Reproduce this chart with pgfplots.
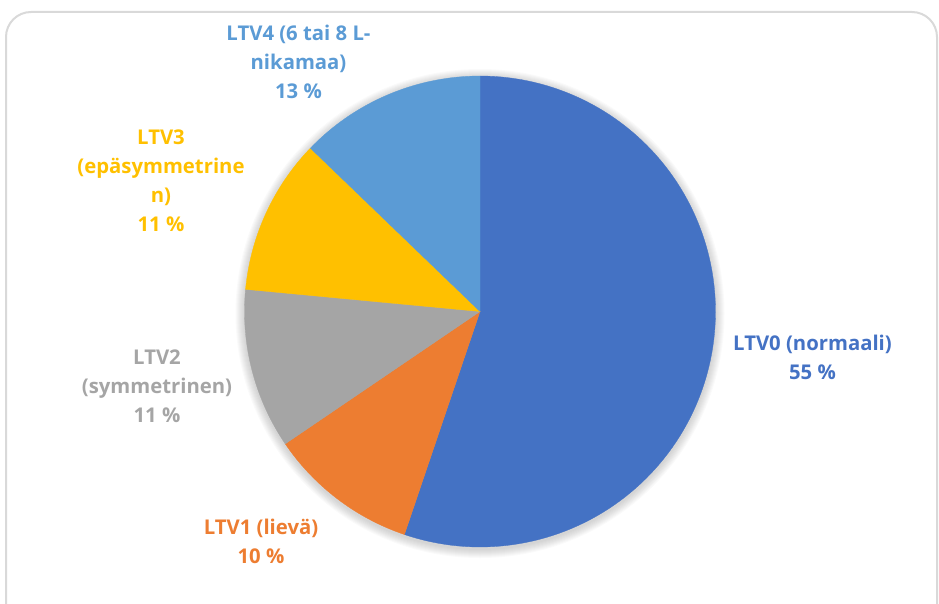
\documentclass[border=0pt]{standalone}
\usepackage{pgfplots}
\pgfplotsset{compat=1.18}
\usepackage{pgfplotstable}
\usepackage{fontspec}
\setmainfont{Open Sans}
\definecolor{cA}{HTML}{4472C4}
\definecolor{cB}{HTML}{ED7D31}
\definecolor{cC}{HTML}{A5A5A5}
\definecolor{cD}{HTML}{FFC000}
\definecolor{cE}{HTML}{5B9BD5}
\definecolor{frame}{HTML}{D9D9D9}
\tikzset{lbl/.style={align=center, font=\fontsize{20.3}{29}\selectfont\bfseries}}
\pgfplotstableread{
label value
LTV0 55.2
LTV1 10.3
LTV2 11.0
LTV3 10.7
LTV4 12.8
}\pietable
\def\cx{480}\def\cy{311.5}\def\rr{235.5}
\begin{document}%
\pgfplotstablegetelem{0}{value}\of\pietable\pgfmathsetmacro\aA{90-3.6*\pgfplotsretval}%
\pgfplotstablegetelem{1}{value}\of\pietable\pgfmathsetmacro\aB{\aA-3.6*\pgfplotsretval}%
\pgfplotstablegetelem{2}{value}\of\pietable\pgfmathsetmacro\aC{\aB-3.6*\pgfplotsretval}%
\pgfplotstablegetelem{3}{value}\of\pietable\pgfmathsetmacro\aD{\aC-3.6*\pgfplotsretval+360}%
\begin{tikzpicture}
\begin{axis}[
  x=1pt, y=1pt, xmin=0, xmax=939, ymin=0, ymax=604, y dir=reverse,
  hide axis, clip=true, scale only axis,
]
\coordinate (bl) at (axis cs:0,604);
\coordinate (tr) at (axis cs:939,0);
\draw[frame, line width=2pt, rounded corners=25pt] (axis cs:6,604) -- (axis cs:6,12) -- (axis cs:937,12) -- (axis cs:937,604);
\pgfplotsinvokeforeach{1,...,9}{
  \fill[black, opacity=0.018] (axis cs:480,313.5) circle[radius=235.5+#1];
}
\addplot[fill=cA, draw=cA, line width=0.3pt, domain=\aA:90, samples=120, variable=\t]
  ({\cx+\rr*cos(\t)},{\cy-\rr*sin(\t)}) -- (axis cs:\cx,\cy) -- cycle;
\addplot[fill=cB, draw=cB, line width=0.3pt, domain=\aB:\aA, samples=40, variable=\t]
  ({\cx+\rr*cos(\t)},{\cy-\rr*sin(\t)}) -- (axis cs:\cx,\cy) -- cycle;
\addplot[fill=cC, draw=cC, line width=0.3pt, domain=\aC:\aB, samples=40, variable=\t]
  ({\cx+\rr*cos(\t)},{\cy-\rr*sin(\t)}) -- (axis cs:\cx,\cy) -- cycle;
\addplot[fill=cD, draw=cD, line width=0.3pt, domain=\aD:{\aC+360}, samples=40, variable=\t]
  ({\cx+\rr*cos(\t)},{\cy-\rr*sin(\t)}) -- (axis cs:\cx,\cy) -- cycle;
\addplot[fill=cE, draw=cE, line width=0.3pt, domain=90:\aD, samples=40, variable=\t]
  ({\cx+\rr*cos(\t)},{\cy-\rr*sin(\t)}) -- (axis cs:\cx,\cy) -- cycle;
\node[lbl, text=cA] at (axis cs:812.5,357) {LTV0 (normaali)\\55 \%};
\node[lbl, text=cB] at (axis cs:261,541) {LTV1 (lievä)\\10 \%};
\node[lbl, text=cC] at (axis cs:157,386) {LTV2\\(symmetrinen)\\11 \%};
\node[lbl, text=cD] at (axis cs:161,181) {LTV3\\(epäsymmetrine\\n)\\11 \%};
\node[lbl, text=cE] at (axis cs:298.5,62) {LTV4 (6 tai 8 L-\\nikamaa)\\13 \%};
\end{axis}
\pgfresetboundingbox
\useasboundingbox (bl) rectangle (tr);
\end{tikzpicture}%
\end{document}
